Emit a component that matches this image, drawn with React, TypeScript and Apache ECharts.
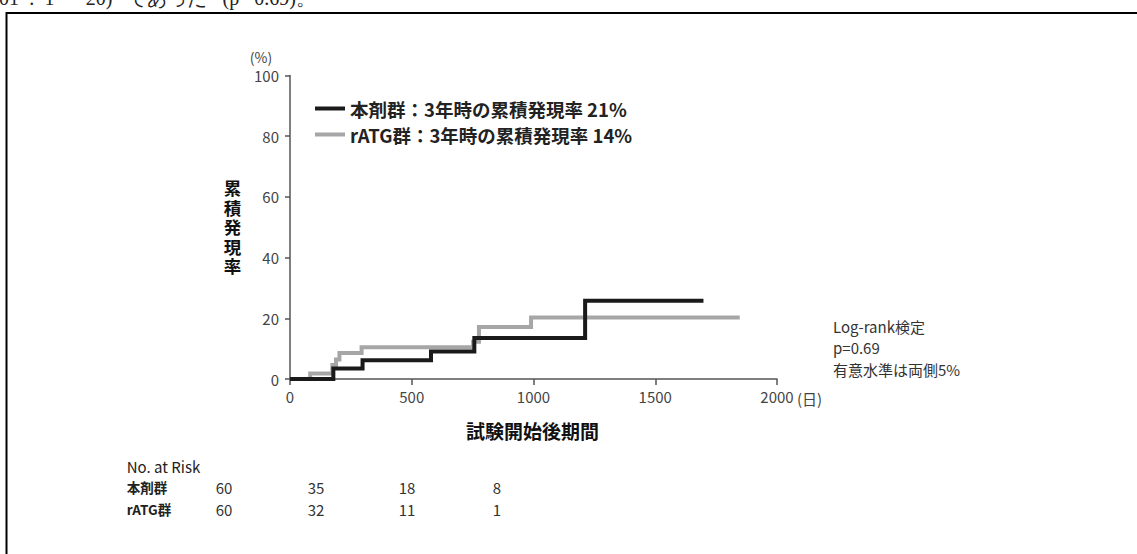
import React, { useEffect, useRef } from "react";
import * as echarts from "echarts";

// ---- data ----
const xTicks = [0, 500, 1000, 1500, 2000];
const yTicks = [0, 20, 40, 60, 80, 100];
const seriesNames = ["本剤群：3年時の累積発現率 21%", "rATG群：3年時の累積発現率 14%"];
const drugTimes = [0, 178, 298, 579, 757, 1212, 1698];
const drugRates = [0, 3.5, 6.2, 9.1, 13.5, 25.8, 25.8];
const ratgTimes = [0, 83, 174, 189, 203, 294, 752, 776, 990, 1847];
const ratgRates = [0, 1.8, 4.6, 6.4, 8.6, 10.5, 12.3, 17.1, 20.3, 20.3];
const yTitleChars = ["累", "積", "発", "現", "率"];
const riskRowLabels = ["本剤群", "rATG群"];
const drugRisk = [60, 35, 18, 8];
const ratgRisk = [60, 32, 11, 1];
const statLines = ["Log-rank検定", "p=0.69", "有意水準は両側5%"];

const FONT = "'Noto Sans CJK JP', 'Noto Sans', sans-serif";

export default function App() {
  const ref = useRef<HTMLDivElement>(null);
  useEffect(() => {
    if (!ref.current) return;
    const chart = echarts.init(ref.current, undefined, { renderer: "svg" });
    const zip = (t: number[], v: number[]) => t.map((x, i) => [x, v[i]]);
    const riskX = [224, 316, 407, 497];
    const graphics: any[] = [
      // frame
      {
        type: "rect",
        shape: { x: 6.5, y: 13, width: 1200, height: 600 },
        style: { fill: "none", stroke: "#000", lineWidth: 2 },
        silent: true,
      },
      // cut-off text line at top
      {
        type: "text",
        x: -1,
        y: 8,
        style: {
          text: "01  :  1  −  20)   であった   (p   0.69)。",
          font: "20px 'Liberation Serif', 'DejaVu Serif', serif",
          fill: "#222",
          textVerticalAlign: "bottom",
        },
      },
      {
        type: "text",
        x: 261,
        y: 57,
        style: { text: "(%)", font: `14px ${FONT}`, fill: "#444", textAlign: "center", textVerticalAlign: "middle" },
      },
      ...yTitleChars.map((c, i) => ({
        type: "text",
        x: 232.5,
        y: 187.5 + i * 19.5,
        style: {
          text: c,
          font: `bold 17.5px ${FONT}`,
          fill: "#111",
          textAlign: "center",
          textVerticalAlign: "middle",
        },
      })),
      {
        type: "text",
        x: 532.5,
        y: 430,
        style: { text: "試験開始後期間", font: `bold 19px ${FONT}`, fill: "#111", textAlign: "center", textVerticalAlign: "middle" },
      },
      {
        type: "text",
        x: 797,
        y: 398,
        style: { text: "(日)", font: `15px ${FONT}`, fill: "#444", textVerticalAlign: "middle" },
      },
      ...statLines.map((s, i) => ({
        type: "text",
        x: 833,
        y: 326.7 + i * 21.2,
        style: { text: s, font: `15px ${FONT}`, fill: "#333", textVerticalAlign: "middle" },
      })),
      {
        type: "text",
        x: 126.7,
        y: 466.7,
        style: { text: "No. at Risk", font: `15px ${FONT}`, fill: "#222", textVerticalAlign: "middle" },
      },
      ...riskRowLabels.map((s, i) => ({
        type: "text",
        x: 126.7,
        y: 487.3 + i * 22,
        style: { text: s, font: `bold 13.5px ${FONT}`, fill: "#222", textVerticalAlign: "middle" },
      })),
      ...[drugRisk, ratgRisk].flatMap((row, r) =>
        row.map((n, i) => ({
          type: "text",
          x: riskX[i],
          y: 487.3 + r * 22,
          style: { text: String(n), font: `15px ${FONT}`, fill: "#333", textAlign: "center", textVerticalAlign: "middle" },
        }))
      ),
    ];
    chart.setOption({
      animation: false,
      textStyle: { fontFamily: FONT },
      grid: { left: 290, top: 75.5, width: 487, height: 303.5, containLabel: false },
      legend: {
        orient: "vertical",
        left: 310,
        top: 93,
        itemWidth: 30,
        itemHeight: 4,
        itemGap: 5,
        icon: "rect",
        data: [seriesNames[0], seriesNames[1]],
        textStyle: { fontSize: 18.5, fontWeight: "bold", color: "#222", lineHeight: 21, fontFamily: FONT },
      },
      xAxis: {
        type: "value",
        min: xTicks[0],
        max: xTicks[xTicks.length - 1],
        interval: 500,
        splitLine: { show: false },
        axisLine: { lineStyle: { color: "#555", width: 1.5 } },
        axisTick: { length: 6, lineStyle: { color: "#555", width: 1.5 } },
        axisLabel: { color: "#444", fontSize: 15, margin: 10, fontFamily: FONT, formatter: (v: number) => String(v) },
      },
      yAxis: {
        type: "value",
        min: yTicks[0],
        max: yTicks[yTicks.length - 1],
        interval: 20,
        splitLine: { show: false },
        axisLine: { show: true, lineStyle: { color: "#555", width: 1.5 } },
        axisTick: { show: true, length: 5, lineStyle: { color: "#555", width: 1.5 } },
        axisLabel: { color: "#444", fontSize: 15, margin: 11, fontFamily: FONT, formatter: (v: number) => String(v) },
      },
      series: [
        {
          name: seriesNames[1],
          type: "line",
          step: "end",
          showSymbol: false,
          symbol: "none",
          data: zip(ratgTimes, ratgRates),
          lineStyle: { color: "#a6a6a6", width: 4, cap: "butt", join: "miter" },
          itemStyle: { color: "#a6a6a6" },
          z: 2,
        },
        {
          name: seriesNames[0],
          type: "line",
          step: "end",
          showSymbol: false,
          symbol: "none",
          data: zip(drugTimes, drugRates),
          lineStyle: { color: "#1a1a1a", width: 4, cap: "butt", join: "miter" },
          itemStyle: { color: "#1a1a1a" },
          z: 3,
        },
      ],
      graphic: graphics,
    });
    return () => chart.dispose();
  }, []);
  return (
    <div
      ref={ref}
      style={{ position: "fixed", left: 0, top: 0, width: 1137, height: 554, background: "#fff" }}
    />
  );
}
